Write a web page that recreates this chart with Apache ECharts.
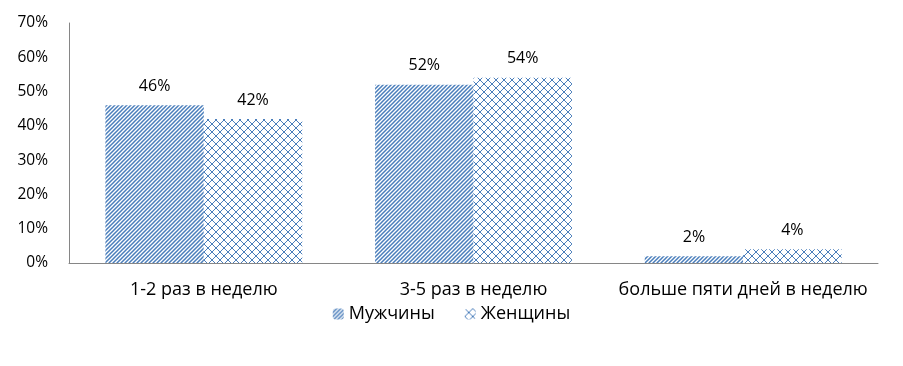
<!DOCTYPE html>
<html><head><meta charset="utf-8">
<script src="https://cdn.jsdelivr.net/npm/echarts@6/dist/echarts.min.js"></script>
<style>html,body{margin:0;padding:0;background:#fff}#c{width:903px;height:366px}</style>
</head><body><div id="c"></div>
<script>
const categories = ['1-2 раз в неделю', '3-5 раз в неделю', 'больше пяти дней в неделю'];
const seriesNames = ['Мужчины', 'Женщины'];
const men = [46, 52, 2];
const women = [42, 54, 4];
const yTicks = [0, 10, 20, 30, 40, 50, 60, 70];

const BLUE = '#4a7ebb';
function stripePattern() {
  const c = document.createElement('canvas');
  c.width = 4; c.height = 4;
  const g = c.getContext('2d');
  g.fillStyle = '#fff'; g.fillRect(0,0,4,4);
  g.strokeStyle = BLUE; g.lineWidth = 1.5;
  g.beginPath();
  g.moveTo(-1,5); g.lineTo(5,-1);
  g.moveTo(-1,1); g.lineTo(1,-1);
  g.moveTo(3,5); g.lineTo(5,3);
  g.stroke();
  return c;
}
function crossPattern() {
  const c = document.createElement('canvas');
  c.width = 8; c.height = 8;
  const g = c.getContext('2d');
  g.fillStyle = '#fff'; g.fillRect(0,0,8,8);
  g.fillStyle = BLUE;
  for (let i = 0; i < 8; i++) {
    g.fillRect(i, i, 1, 1);
    g.fillRect(7 - i, i, 1, 1);
  }
  return c;
}
const menColor = { image: stripePattern(), repeat: 'repeat' };
const womenColor = { image: crossPattern(), repeat: 'repeat' };

const FONT = '"Open Sans", sans-serif';
const chart = echarts.init(document.getElementById('c'), null, {renderer: 'canvas'});
chart.setOption({
  animation: false,
  grid: { left: 69, right: 25, top: 23, bottom: 103 },
  legend: {
    top: 300, left: 'center',
    itemWidth: 11, itemHeight: 11, itemGap: 30,
    textStyle: { fontFamily: FONT, fontSize: 18, color: '#000' },
    data: seriesNames
  },
  xAxis: {
    type: 'category', data: categories,
    axisLine: { lineStyle: { color: '#868686', width: 1 } },
    axisTick: { show: false },
    axisLabel: { fontFamily: FONT, fontSize: 18, color: '#000', margin: 18, interval: 0 }
  },
  yAxis: {
    type: 'value', min: 0, max: 70, interval: 10,
    axisLine: { show: true, lineStyle: { color: '#868686', width: 1 } },
    axisTick: { show: false },
    splitLine: { show: false },
    axisLabel: { fontFamily: FONT, fontSize: 15.5, color: '#000', margin: 21,
      formatter: v => yTicks.includes(v) ? v + '%' : '' }
  },
  series: [
    { name: seriesNames[0], type: 'bar', data: men, barGap: '0%', barCategoryGap: '27%',
      itemStyle: { color: menColor },
      label: { show: true, position: 'top', distance: 11, formatter: '{c}%',
        fontFamily: FONT, fontSize: 16, color: '#000' } },
    { name: seriesNames[1], type: 'bar', data: women, barGap: '0%', barCategoryGap: '27%',
      itemStyle: { color: womenColor },
      label: { show: true, position: 'top', distance: 11, formatter: '{c}%',
        fontFamily: FONT, fontSize: 16, color: '#000' } }
  ]
});
</script></body></html>
